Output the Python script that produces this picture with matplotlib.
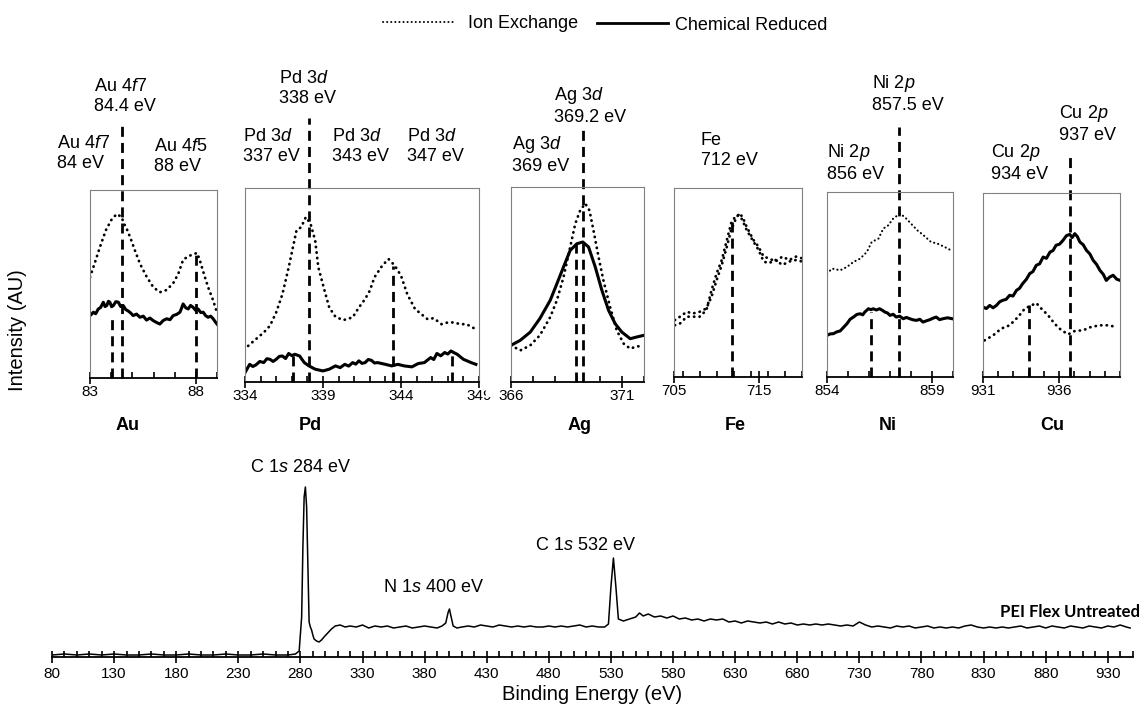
import matplotlib

matplotlib.use("Agg")
import matplotlib.pyplot as plt  # noqa: E402
from matplotlib.lines import Line2D  # noqa: E402
from matplotlib.patches import Rectangle  # noqa: E402
from matplotlib.ticker import FixedLocator, MultipleLocator  # noqa: E402

plt.rcParams["font.family"] = ["Liberation Sans", "DejaVu Sans"]
plt.rcParams["mathtext.fontset"] = "custom"
plt.rcParams["mathtext.rm"] = "Liberation Sans"
plt.rcParams["mathtext.it"] = "Liberation Sans:italic"
plt.rcParams["mathtext.bf"] = "Liberation Sans:bold"

# ---- high-resolution spectra (intensity in % of panel height) ----
au_x_ion = [83.0, 83.24, 83.47, 83.75, 84.02, 84.26, 84.49, 84.6, 84.73, 84.92, 85.12, 85.36,
            85.67, 85.99, 86.3, 86.62, 86.93, 87.17, 87.4, 87.64, 87.87, 88.06, 88.19, 88.38,
            88.58, 88.82, 88.97]
au_y_ion = [53.6, 61.7, 69.7, 78.6, 84.3, 87.2, 85.7, 82.2, 79.5, 74.2, 67.9, 60.8,
            54.0, 48.3, 45.6, 46.8, 50.4, 55.4, 62.9, 64.7, 65.8, 66.5, 62.6, 55.4,
            48.3, 41.2, 35.8]
au_x_red = [83.0, 83.08, 83.16, 83.27, 83.39, 83.5, 83.63, 83.71, 83.79, 83.87, 83.94, 84.02,
            84.1, 84.22, 84.34, 84.45, 84.57, 84.69, 84.81, 84.92, 85.04, 85.2, 85.36, 85.52,
            85.67, 85.83, 85.99, 86.15, 86.3, 86.46, 86.62, 86.78, 86.93, 87.09, 87.25, 87.32,
            87.4, 87.52, 87.64, 87.75, 87.87, 87.99, 88.11, 88.23, 88.35, 88.46, 88.58, 88.7,
            88.82, 88.91, 89.0]
au_y_red = [33.2, 34.0, 35.0, 34.2, 36.7, 37.5, 40.3, 38.0, 38.5, 40.8, 40.3, 37.9,
            38.5, 40.6, 40.3, 38.0, 38.5, 36.4, 35.6, 34.6, 33.2, 34.0, 32.3, 32.9,
            30.8, 31.9, 30.5, 29.5, 28.7, 30.6, 31.5, 31.0, 33.2, 33.8, 35.0, 37.0,
            39.4, 37.4, 36.7, 38.6, 37.6, 36.0, 36.7, 34.8, 35.0, 33.2, 32.3, 32.9,
            31.5, 30.0, 28.7]

pd_x_ion = [334.2, 334.7, 335.2, 335.6, 336.0, 336.4, 336.8, 337.3, 337.6, 337.9, 338.2, 338.5,
            338.7, 339.1, 339.4, 339.8, 340.3, 340.9, 341.3, 341.7, 342.0, 342.3, 342.8, 343.2,
            343.6, 344.0, 344.4, 344.9, 345.3, 345.7, 346.1, 346.6, 347.0, 347.4, 347.8, 348.2,
            348.8]
pd_y_ion = [18.6, 22.1, 25.5, 29.0, 35.9, 45.3, 59.1, 78.1, 79.8, 85.0, 81.6, 72.9,
            59.1, 47.1, 38.4, 33.6, 31.9, 33.3, 38.4, 42.8, 47.1, 54.0, 60.0, 63.4,
            60.0, 54.8, 45.3, 37.6, 35.0, 32.4, 32.9, 29.8, 30.7, 30.7, 29.8, 29.8,
            27.2]
pd_x_red = [334.0, 334.15, 334.3, 334.5, 334.7, 334.95, 335.2, 335.4, 335.6, 335.8, 336.0, 336.2,
            336.4, 336.6, 336.8, 337.0, 337.2, 337.5, 337.8, 338.1, 338.5, 339.0, 339.4, 339.8,
            340.1, 340.4, 340.65, 340.9, 341.1, 341.3, 341.5, 341.7, 341.9, 342.1, 342.3, 342.5,
            343.0, 343.4, 343.8, 344.2, 344.7, 345.1, 345.5, 345.9, 346.1, 346.3, 346.55, 346.8,
            347.0, 347.2, 347.4, 347.6, 348.0, 348.5, 348.8]
pd_y_red = [4.8, 7.0, 9.1, 8.0, 8.8, 10.6, 10.0, 12.0, 11.7, 10.6, 11.7, 13.2,
            13.4, 12.1, 14.7, 13.6, 14.3, 13.4, 10.0, 8.3, 6.6, 5.7, 6.6, 8.3,
            7.4, 9.1, 8.2, 10.0, 9.2, 10.9, 9.6, 10.0, 11.6, 11.2, 9.8, 10.0,
            9.1, 8.3, 9.1, 8.3, 7.8, 9.5, 10.0, 12.6, 11.6, 14.7, 13.5, 15.2,
            14.4, 16.0, 15.1, 14.3, 11.7, 10.0, 9.1]

ag_x_ion = [366.0, 366.42, 366.87, 367.3, 367.77, 368.07, 368.37, 368.67, 368.9, 369.12, 369.35,
            369.54, 369.72, 369.95, 370.17, 370.47, 370.77, 371.08, 371.38, 371.68, 371.98]
ag_y_ion = [18.8, 16.2, 18.8, 23.9, 33.3, 41.9, 53.8, 69.2, 81.2, 88.0, 91.5,
            88.0, 77.8, 64.1, 52.1, 38.5, 26.5, 19.7, 17.1, 18.3, 18.3]
ag_x_red = [366.0, 366.42, 366.87, 367.3, 367.77, 368.07, 368.37, 368.67, 368.97, 369.24, 369.5,
            369.8, 370.1, 370.4, 370.7, 371.0, 371.38, 371.68, 371.98]
ag_y_red = [18.8, 21.4, 25.6, 32.5, 41.9, 50.4, 59.0, 67.5, 70.9, 71.8, 69.2,
            59.0, 47.0, 36.8, 29.9, 25.6, 22.2, 23.1, 23.9]

fe_x = [705.1, 705.7, 706.5, 707.2, 708.0, 708.8, 709.4, 710.0, 710.6, 711.2, 711.7, 712.2,
        712.6, 713.0, 713.5, 714.3, 714.9, 715.5, 716.1, 716.9, 717.7, 718.5, 719.3, 720.0]
fe_y_ion = [30.1, 31.9, 34.5, 33.6, 34.5, 36.3, 42.5, 51.3, 59.3, 69.0, 77.9, 83.2,
            86.4, 85.0, 79.6, 72.6, 69.0, 63.7, 62.8, 61.1, 63.7, 61.9, 63.7, 62.8]
fe_y_red = [27.4, 28.3, 31.9, 31.9, 31.9, 35.4, 46.0, 54.9, 61.9, 72.6, 81.4, 85.0,
            85.8, 83.2, 77.9, 71.7, 67.3, 61.1, 60.2, 61.9, 59.3, 61.1, 61.9, 61.1]

ni_x_ion = [854.0, 854.24, 854.63, 854.95, 855.26, 855.58, 855.9, 856.13, 856.45, 856.68, 856.92,
            857.15, 857.47, 857.7, 858.0, 858.3, 858.6, 858.95, 859.26, 859.6, 859.9]
ni_y_ion = [55.9, 58.6, 57.7, 59.5, 62.2, 64.0, 67.6, 73.0, 74.8, 80.2, 82.0,
            85.6, 88.3, 86.5, 82.9, 79.3, 76.6, 73.0, 72.1, 70.3, 68.5]
ni_x_red = [854.0, 854.15, 854.3, 854.47, 854.63, 854.8, 854.95, 855.1, 855.26, 855.42, 855.58,
            855.7, 855.8, 855.97, 856.1, 856.2, 856.35, 856.5, 856.63, 856.76, 856.88, 857.0,
            857.15, 857.3, 857.46, 857.63, 857.78, 857.94, 858.1, 858.26, 858.42, 858.57, 858.74,
            858.9, 859.05, 859.2, 859.36, 859.52, 859.74, 859.96]
ni_y_red = [22.5, 23.3, 23.4, 24.4, 24.9, 27.0, 28.8, 31.2, 32.4, 33.8, 34.2,
            33.6, 35.1, 36.9, 36.4, 36.9, 36.2, 36.9, 36.1, 35.1, 34.6, 33.3,
            33.9, 32.4, 32.9, 31.5, 32.2, 31.5, 30.9, 30.6, 31.2, 29.7, 30.4,
            31.0, 31.8, 32.4, 31.0, 31.5, 32.0, 31.5]

cu_x_ion = [931.1, 931.66, 932.2, 932.75, 933.3, 933.74, 934.18, 934.5, 934.84, 935.28, 935.7,
            936.15, 936.6, 937.03, 937.58, 938.1, 938.68, 939.2, 939.77]
cu_y_ion = [19.9, 22.6, 26.3, 28.1, 32.6, 37.1, 38.9, 40.2, 37.1, 33.5, 29.0,
            25.4, 23.2, 25.0, 25.4, 27.2, 28.1, 28.1, 27.2]
cu_x_red = [931.0, 931.22, 931.44, 931.66, 931.88, 932.1, 932.3, 932.52, 932.75, 932.97, 933.2,
            933.4, 933.6, 933.84, 934.07, 934.28, 934.5, 934.72, 934.95, 935.17, 935.4, 935.6,
            935.8, 936.03, 936.26, 936.48, 936.7, 936.86, 937.03, 937.2, 937.36, 937.58, 937.8,
            938.02, 938.24, 938.46, 938.68, 938.9, 939.1, 939.32, 939.55, 939.78, 940.0]
cu_y_red = [38.0, 37.2, 38.9, 37.6, 38.9, 40.9, 41.7, 42.2, 44.4, 44.0, 47.1,
            48.2, 50.7, 53.0, 56.2, 57.3, 60.7, 61.5, 65.2, 64.5, 67.9, 68.7,
            71.6, 72.2, 74.3, 76.8, 77.5, 75.8, 77.9, 76.3, 73.4, 71.9, 68.8,
            66.9, 63.4, 61.2, 58.0, 55.8, 52.5, 54.3, 55.3, 53.2, 52.5]

# peak markers: position, lower and upper end of the dashed line
au_marks = [(84.02, 0, 33), (84.5, 0, 135), (88.03, 0, 66)]
pd_marks = [(337.1, 0, 15), (338.1, 0, 136), (343.5, 0, 60), (347.3, 0, 15)]
ag_marks = [(368.95, 0, 71), (369.25, 0, 130)]
fe_marks = [(711.8, 0, 83)]
ni_marks = [(856.1, 0, 35), (857.45, 0, 135)]
cu_marks = [(934.0, 0, 39), (936.7, 0, 122)]

elements = ["Au", "Pd", "Ag", "Fe", "Ni", "Cu"]

# ---- survey spectrum of untreated PEI ----
survey_x = [80, 90, 100, 110, 120, 130, 140, 150, 160, 170, 180, 190, 200, 210, 220, 230, 240,
            250, 260, 270, 276, 279, 281, 282, 283, 284, 285, 286, 287, 288, 289, 290, 291, 293,
            295, 297, 299, 302, 305, 308, 312, 316, 320, 325, 330, 335, 340, 345, 350, 355, 360,
            365, 370, 375, 380, 385, 390, 394, 397, 399, 400, 401, 403, 406, 410, 415, 420, 425,
            430, 435, 440, 445, 450, 455, 460, 465, 470, 475, 480, 485, 490, 495, 500, 505, 510,
            515, 520, 525, 528, 530, 532, 534, 536, 540, 545, 550, 553, 556, 560, 565, 570, 575,
            580, 585, 590, 595, 600, 605, 610, 615, 620, 625, 630, 635, 640, 645, 650, 655, 660,
            665, 670, 675, 680, 685, 690, 695, 700, 705, 710, 715, 720, 725, 730, 735, 740, 745,
            750, 755, 760, 765, 770, 775, 780, 785, 790, 795, 800, 805, 810, 815, 820, 825, 830,
            835, 840, 845, 850, 855, 860, 865, 870, 875, 880, 885, 890, 895, 900, 905, 910, 915,
            920, 925, 930, 935, 940, 945, 948]
survey_y = [2, 3, 2, 3, 2, 3, 2, 2, 3, 2, 2, 3, 2, 2, 3, 2, 2,
            3, 2, 2, 3, 6, 40, 110, 160, 170, 150, 90, 35, 30, 27, 22, 18, 16,
            15, 17, 20, 24, 28, 31, 32, 30, 31, 30, 32, 29, 31, 30, 31, 29, 30,
            31, 29, 30, 31, 30, 29, 31, 34, 45, 48, 42, 31, 29, 30, 31, 30, 32,
            31, 30, 32, 31, 30, 31, 30, 31, 30, 30, 31, 30, 31, 30, 31, 32, 30,
            31, 30, 30, 33, 70, 99, 70, 38, 36, 38, 40, 44, 41, 43, 40, 41, 39,
            41, 38, 39, 37, 38, 36, 38, 37, 38, 35, 36, 34, 36, 35, 34, 35, 33,
            35, 33, 34, 32, 33, 32, 33, 32, 33, 32, 31, 32, 31, 35, 32, 30, 31,
            30, 29, 31, 30, 31, 29, 30, 31, 29, 30, 29, 30, 29, 31, 32, 30, 29,
            30, 29, 30, 29, 30, 31, 29, 30, 31, 29, 31, 30, 29, 31, 30, 29, 31,
            30, 29, 31, 30, 32, 30, 29]

W, H = 1142, 710
fig = plt.figure(figsize=(W / 100, H / 100), dpi=100)


def px_axes(left, top, right, bottom):
    return fig.add_axes([left / W, 1 - bottom / H, (right - left) / W, (bottom - top) / H])


def fx(x):
    return x / W


def fy(y):
    return 1 - y / H


ION = dict(color="black", lw=2.0, linestyle=(0, (0.1, 1.9)), dash_capstyle="round")
RED = dict(color="black", lw=2.2, solid_joinstyle="round")
DASH = dict(color="black", lw=2.0, linestyle=(0, (3.6, 2.2)))

panels = [
    # box in px, xlim, major ticks, minor step, series
    ((90, 190, 217, 378), (83, 89), [83, 88], 1,
     [(au_x_ion, au_y_ion, ION), (au_x_red, au_y_red, RED)], au_marks),
    ((245, 188, 479, 382), (334, 349), [334, 339, 344, 349], 1,
     [(pd_x_ion, pd_y_ion, ION), (pd_x_red, pd_y_red, RED)], pd_marks),
    ((511, 187, 644, 382), (366, 372), [366, 371], 1,
     [(ag_x_ion, ag_y_ion, ION), (ag_x_red, ag_y_red, RED)], ag_marks),
    ((674, 188, 802, 377), (705, 720), [705, 715], 2,
     [(fe_x, fe_y_ion, ION), (fe_x, fe_y_red, ION)], fe_marks),
    ((827, 192, 953, 377), (854, 860), [854, 859], 1,
     [(ni_x_ion, ni_y_ion, dict(ION, lw=1.5)), (ni_x_red, ni_y_red, RED)], ni_marks),
    ((983, 193, 1120, 377), (931, 940), [931, 936], 1,
     [(cu_x_ion, cu_y_ion, ION), (cu_x_red, cu_y_red, RED)], cu_marks),
]

for box, xlim, majors, minor, series, marks in panels:
    ax = px_axes(*box)
    for xs, ys, style in series:
        ax.plot(xs, ys, **style)
    for pos, lo, hi in marks:
        ax.plot([pos, pos], [lo, hi], clip_on=False, **DASH)
    ax.set_xlim(*xlim)
    ax.set_ylim(0, 100)
    ax.set_yticks([])
    ax.xaxis.set_major_locator(FixedLocator(majors))
    ax.xaxis.set_minor_locator(MultipleLocator(minor))
    ax.tick_params(axis="x", which="major", direction="inout", length=8, width=1.2,
                   labelsize=11, pad=1)
    ax.tick_params(axis="x", which="minor", direction="in", length=4, width=1.2)
    for side in ("left", "top", "right"):
        ax.spines[side].set_color("#808080")
        ax.spines[side].set_linewidth(0.8)
    ax.spines["bottom"].set_linewidth(1.3)

# the neighbouring chart hides the end of the last Pd tick label
fig.add_artist(Rectangle((fx(486), fy(396)), 13 / W, 20 / H, transform=fig.transFigure,
                         color="white", zorder=10))

# peak annotations (left, top in px)
labels = [
    ("Au 4$\\mathit{f7}$\n84.4 eV", 94, 78),
    ("Au 4$\\mathit{f7}$\n84 eV", 57, 135),
    ("Au 4$\\mathit{f5}$\n88 eV", 154, 138),
    ("Pd 3$\\mathit{d}$\n338 eV", 279, 70),
    ("Pd 3$\\mathit{d}$\n337 eV", 243, 128),
    ("Pd 3$\\mathit{d}$\n343 eV", 332, 128),
    ("Pd 3$\\mathit{d}$\n347 eV", 407, 128),
    ("Ag 3$\\mathit{d}$\n369.2 eV", 554, 85),
    ("Ag 3$\\mathit{d}$\n369 eV", 512, 134),
    ("Fe\n712 eV", 701, 132),
    ("Ni 2$\\mathit{p}$\n857.5 eV", 872, 73),
    ("Ni 2$\\mathit{p}$\n856 eV", 827, 142),
    ("Cu 2$\\mathit{p}$\n937 eV", 1059, 103),
    ("Cu 2$\\mathit{p}$\n934 eV", 991, 142),
]
for txt, x, y in labels:
    fig.text(fx(x), fy(y), txt, ha="left", va="top", fontsize=13, linespacing=1.2)

for name, x in zip(elements, [128, 310, 580, 735, 888, 1052]):
    fig.text(fx(x), fy(425), name, ha="center", va="center", fontsize=13, fontweight="bold")

fig.text(fx(18), fy(330), "Intensity (AU)", rotation=90, ha="center", va="center", fontsize=14.5)

# legend
fig.add_artist(Line2D([fx(383), fx(455)], [fy(22), fy(22)], transform=fig.transFigure,
                      color="black", lw=1.4, linestyle=(0, (0.1, 2.0)), dash_capstyle="round"))
fig.text(fx(468), fy(23), "Ion Exchange", ha="left", va="center", fontsize=13)
fig.add_artist(Line2D([fx(597), fx(668)], [fy(23), fy(23)], transform=fig.transFigure,
                      color="black", lw=2.0))
fig.text(fx(675), fy(26), "Chemical Reduced", ha="left", va="center", fontsize=13)

# survey panel
ax = px_axes(52, 420, 1132.6, 657)
ax.plot(survey_x, survey_y, color="black", lw=1.1)
ax.set_xlim(80, 950)
ax.set_ylim(0, 237)
ax.set_yticks([])
ax.set_xticks(range(80, 931, 50))
ax.xaxis.set_minor_locator(MultipleLocator(10))
ax.tick_params(axis="x", which="major", direction="inout", length=8, width=1.2,
               labelsize=11, pad=3)
ax.tick_params(axis="x", which="minor", direction="in", length=4, width=1.2)
for side in ("left", "top", "right"):
    ax.spines[side].set_visible(False)
ax.spines["bottom"].set_linewidth(1.3)
ax.set_xlabel("Binding Energy (eV)", fontsize=14.5, labelpad=3)

fig.text(fx(300), fy(468), "C 1$\\mathit{s}$ 284 eV", ha="center", va="center", fontsize=13)
fig.text(fx(433), fy(588), "N 1$\\mathit{s}$ 400 eV", ha="center", va="center", fontsize=13)
fig.text(fx(585), fy(545), "C 1$\\mathit{s}$ 532 eV", ha="center", va="center", fontsize=13)
fig.text(fx(1140), fy(612), "PEI Flex Untreated", ha="right", va="center", fontsize=12,
         fontweight="bold", family=["Lato", "DejaVu Sans"])

fig.savefig("out.png", dpi=100)
